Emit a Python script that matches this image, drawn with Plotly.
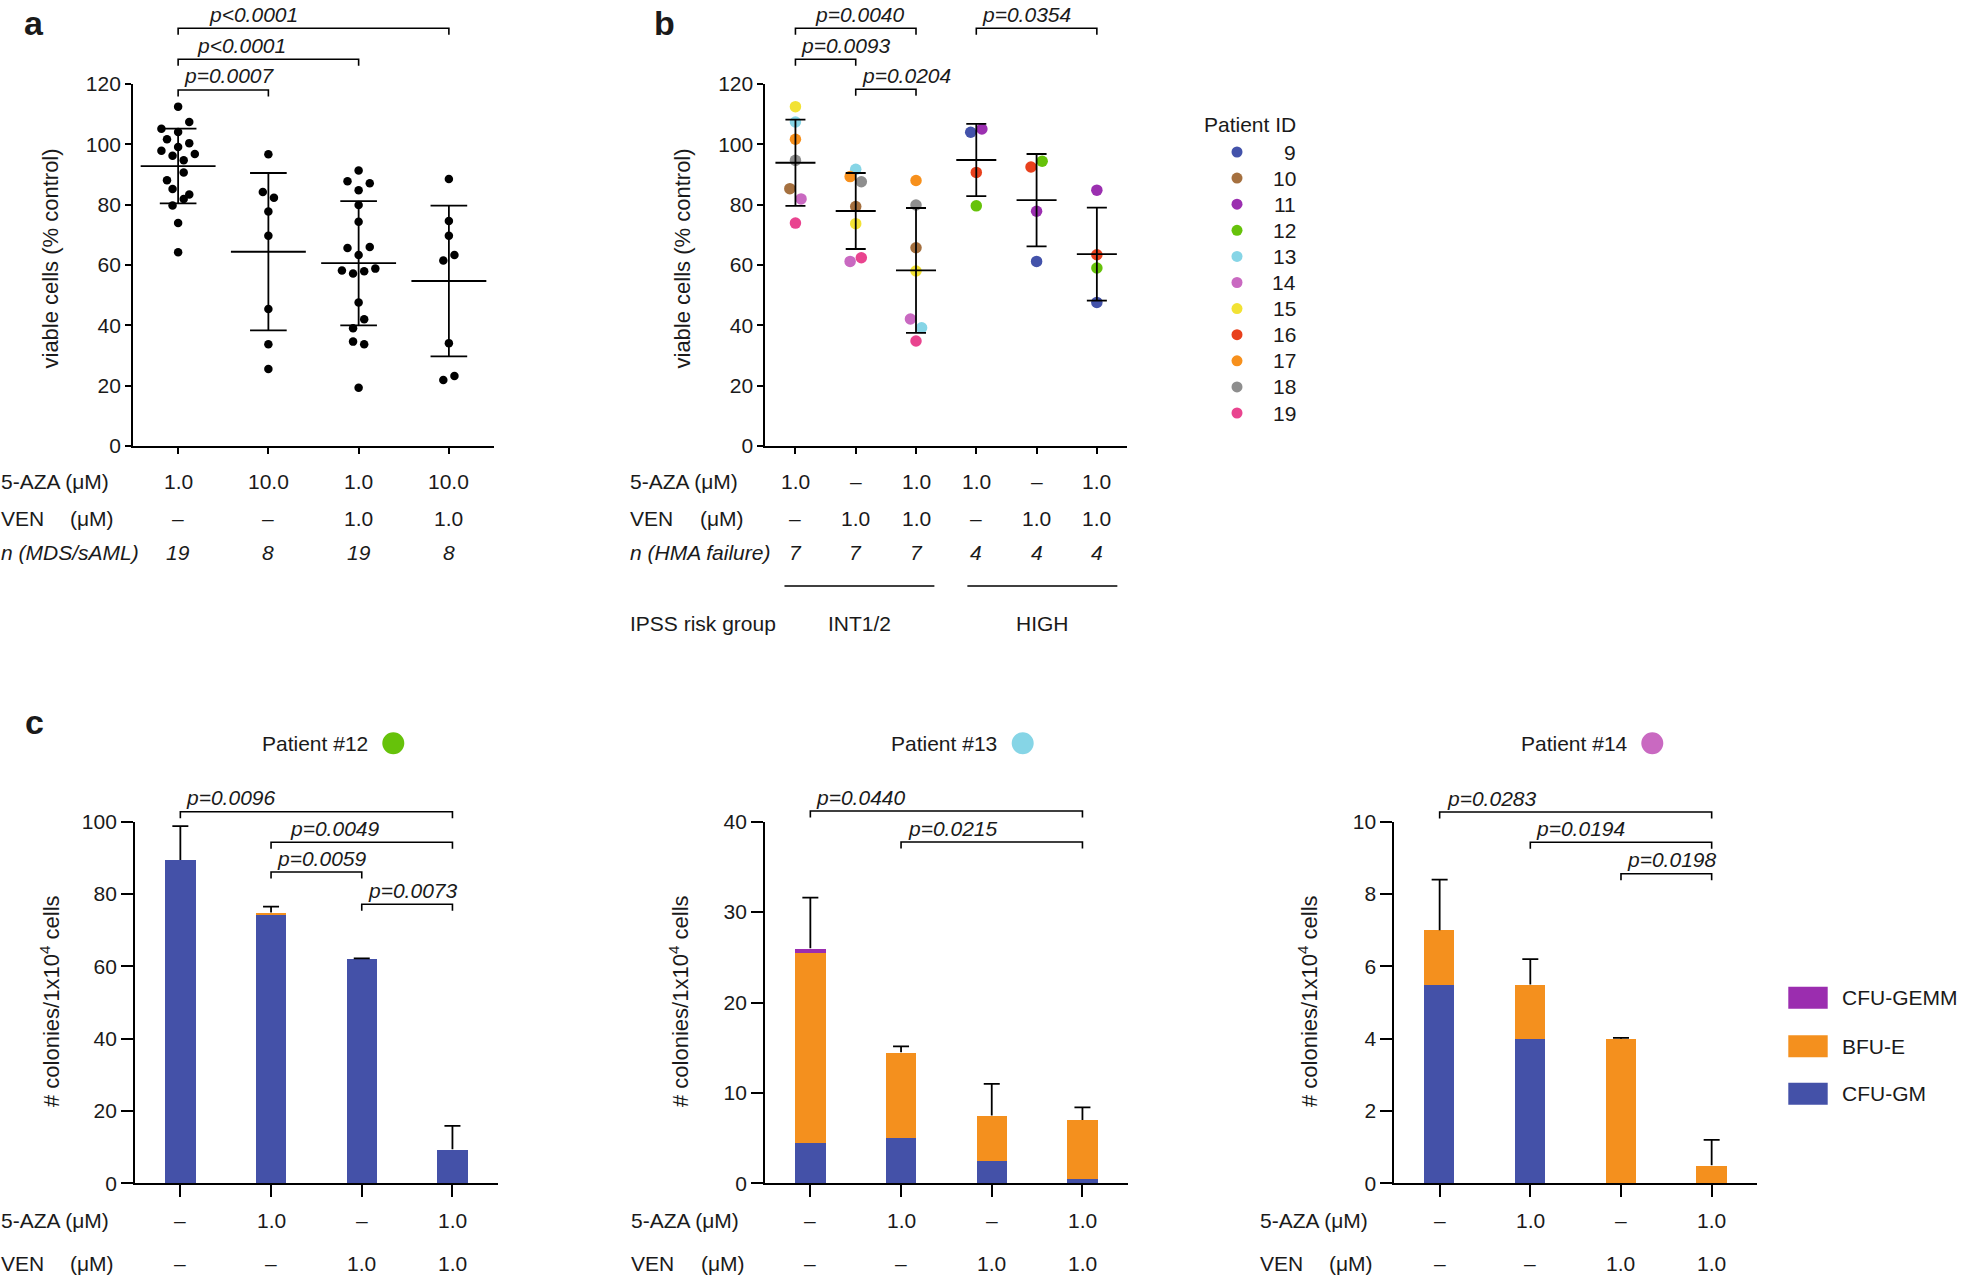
import plotly.graph_objects as go

W, H = 1961, 1278
def fx(px): return px / W
def fy(py): return 1 - py / H

FONT = "Liberation Sans, Arial, Helvetica, sans-serif"
INK = "#1a1a1a"
DASH = "\u2013"

# ---------------- Panel a data ----------------
a_aza = ["1.0", "10.0", "1.0", "10.0"]
a_ven = [DASH, DASH, "1.0", "1.0"]
a_n = ["19", "8", "19", "8"]
a_aza1 = [112.5, 107.4, 105.2, 104.1, 101.7, 100.4, 99.1, 97.9, 96.8, 96.2, 94.7, 90.7, 88.1, 85.2, 83.4, 81.9, 79.7, 73.9, 64.2]
a_aza10 = [96.7, 84.2, 82.3, 77.7, 69.7, 45.4, 33.7, 25.5]
a_aza1_ven1 = [91.3, 87.8, 87.1, 84.8, 79.9, 74.3, 65.6, 66.0, 63.3, 58.8, 58.2, 57.2, 57.9, 47.6, 42.0, 39.0, 34.6, 33.7, 19.3]
a_aza10_ven1 = [88.5, 74.6, 69.7, 61.5, 63.3, 34.1, 21.9, 23.2]
a_mean = [92.8, 64.4, 60.6, 54.7]
a_sd = [12.4, 26.1, 20.6, 25.0]
a_p_labels = ["p&lt;0.0001", "p&lt;0.0001", "p=0.0007"]
a_p_pairs = [(0, 3), (0, 2), (0, 1)]

# ---------------- Panel b data ----------------
b_aza = ["1.0", DASH, "1.0", "1.0", DASH, "1.0"]
b_ven = [DASH, "1.0", "1.0", DASH, "1.0", "1.0"]
b_n = ["7", "7", "7", "4", "4", "4"]
b_patients = ["9", "10", "11", "12", "13", "14", "15", "16", "17", "18", "19"]
b_colors = ["#4352AA", "#A5703F", "#9B2FB0", "#66C20A", "#86D5E6", "#C969C1",
            "#F2E234", "#E8401C", "#F7901C", "#8E8E8E", "#E9448F"]
N = None
b_p9 = [N, N, N, 104.0, 61.2, 47.6]
b_p10 = [85.3, 79.4, 65.7, N, N, N]
b_p11 = [N, N, N, 105.1, 77.8, 84.8]
b_p12 = [N, N, N, 79.6, 94.4, 59.0]
b_p13 = [107.4, 91.7, 39.2, N, N, N]
b_p14 = [81.9, 61.2, 42.1, N, N, N]
b_p15 = [112.5, 73.7, 58.0, N, N, N]
b_p16 = [N, N, N, 90.7, 92.5, 63.4]
b_p17 = [101.7, 89.3, 88.0, N, N, N]
b_p18 = [94.7, 87.6, 79.9, N, N, N]
b_p19 = [73.9, 62.4, 34.8, N, N, N]
b_mean = [93.9, 77.9, 58.2, 94.8, 81.5, 63.6]
b_sd = [14.3, 12.6, 20.7, 12.0, 15.3, 15.4]
b_p_labels = ["p=0.0040", "p=0.0093", "p=0.0204", "p=0.0354"]
b_p_pairs = [(0, 2), (0, 1), (1, 2), (3, 5)]
b_risk = ["INT1/2", "HIGH"]

# ---------------- Panel c data ----------------
c_aza = [DASH, "1.0", DASH, "1.0"]
c_ven = [DASH, DASH, "1.0", "1.0"]
c_components = ["CFU-GEMM", "BFU-E", "CFU-GM"]
c_colors = {"CFU-GM": "#4451A8", "BFU-E": "#F4901E", "CFU-GEMM": "#9B2DAF"}
c12_gm = [89.4, 74.5, 62.0, 9.4]
c12_bfu = [0.0, 0.4, 0.0, 0.0]
c12_gemm = [0.0, 0.0, 0.0, 0.0]
c12_sd = [9.4, 1.6, 0.2, 6.5]
c13_gm = [4.5, 5.0, 2.5, 0.5]
c13_bfu = [21.0, 9.5, 5.0, 6.5]
c13_gemm = [0.5, 0.0, 0.0, 0.0]
c13_sd = [5.6, 0.65, 3.5, 1.4]
c14_gm = [5.5, 4.0, 0.0, 0.0]
c14_bfu = [1.5, 1.5, 4.0, 0.5]
c14_gemm = [0.0, 0.0, 0.0, 0.0]
c14_sd = [1.4, 0.7, 0.02, 0.7]
c12_p = ["p=0.0096", "p=0.0049", "p=0.0059", "p=0.0073"]
c12_pairs = [(0, 3), (1, 3), (1, 2), (2, 3)]
c13_p = ["p=0.0440", "p=0.0215"]
c13_pairs = [(0, 3), (1, 3)]
c14_p = ["p=0.0283", "p=0.0194", "p=0.0198"]
c14_pairs = [(0, 3), (1, 3), (2, 3)]

# =====================================================================
fig = go.Figure()
shapes, ann = [], []

def text(x, y, s, size=21, xanchor="left", yanchor="middle", xref="paper", yref="paper", angle=0, color=INK):
    ann.append(dict(x=x, y=y, xref=xref, yref=yref, text=s, showarrow=False,
                    xanchor=xanchor, yanchor=yanchor, textangle=angle,
                    font=dict(family=FONT, size=size, color=color), borderpad=0))

def bracket(xref, pair, ypx, label, lx, leg=6.5):
    g0, g1 = pair
    shapes.append(dict(type="path", xref=xref, yref="paper",
                       path=f"M {g0},{fy(ypx + leg)} L {g0},{fy(ypx)} L {g1},{fy(ypx)} L {g1},{fy(ypx + leg)}",
                       line=dict(color="black", width=1.6)))
    text(lx, fy(ypx - 14), f"<i>{label}</i>", xanchor="center", xref=xref)

def mean_sd_trace(means, sds, hw_mean, hw_cap, xa, ya):
    xs, ys = [], []
    for i, (m, s) in enumerate(zip(means, sds)):
        xs += [i - hw_mean, i + hw_mean, None, i, i, None,
               i - hw_cap, i + hw_cap, None, i - hw_cap, i + hw_cap, None]
        ys += [m, m, None, m - s, m + s, None, m + s, m + s, None, m - s, m - s, None]
    fig.add_trace(go.Scatter(x=xs, y=ys, mode="lines", line=dict(color="black", width=1.8),
                             xaxis=xa, yaxis=ya, showlegend=False, hoverinfo="skip"))

def xax(d0, d1, n, anchor, ticklen):
    return dict(domain=[fx(d0), fx(d1)], range=[-0.5, n - 0.5], anchor=anchor, automargin=False,
                showline=True, linecolor="black", linewidth=1.8, ticks="outside",
                ticklen=ticklen, tickwidth=1.8, tickcolor="black", tickvals=list(range(n)),
                showticklabels=False, showgrid=False, zeroline=False, fixedrange=True)

def yax(top, bot, rmax, dtick, anchor, ticklen):
    return dict(domain=[fy(bot), fy(top)], range=[0, rmax], anchor=anchor, automargin=False,
                showline=True, linecolor="black", linewidth=1.8, ticks="outside",
                ticklen=ticklen, tickwidth=1.8, tickcolor="black",
                tickvals=[v * dtick for v in range(int(rmax / dtick) + 1)],
                tickfont=dict(family=FONT, size=21, color=INK),
                showgrid=False, zeroline=False, fixedrange=True)

# ---------------- Panel a ----------------
a_groups = [a_aza1, a_aza10, a_aza1_ven1, a_aza10_ven1]
a_swarm = [[0, 2, -3, 0, -2, 2, 0, -3, 3, -1, 1, 1, -2, -1, 2, 1, -1, 0, 0],
           [0, -1, 1, 0, 0, 0, 0, 0],
           [0, -2, 2, 0, 0, 0, -2, 2, 0, 3, -3, -1, 1, 0, 1, -1, -1, 1, 0],
           [0, 0, 0, -1, 1, 0, -1, 1]]
a_step = 5.57 / 90.3
for gi, (vals, offs) in enumerate(zip(a_groups, a_swarm)):
    fig.add_trace(go.Scatter(x=[gi + o * a_step for o in offs], y=vals, mode="markers",
                             marker=dict(color="black", size=8.5), cliponaxis=False,
                             xaxis="x", yaxis="y", showlegend=False))
mean_sd_trace(a_mean, a_sd, 0.415, 0.203, "x", "y")
for pair, lab, ypx, lx in zip(a_p_pairs, a_p_labels, [28.3, 59.3, 90.0], [0.84, 0.70, 0.56]):
    bracket("x", pair, ypx, lab, lx)

# ---------------- Panel b ----------------
b_series = [b_p9, b_p10, b_p11, b_p12, b_p13, b_p14, b_p15, b_p16, b_p17, b_p18, b_p19]
b_swarm = [[0, 0, 0, -1, 0, 0], [-1, 0, 0, 0, 0, 0], [0, 0, 0, 1, 0, 0], [0, 0, 0, 0, 1, 0],
           [0, 0, 1, 0, 0, 0], [1, -1, -1, 0, 0, 0], [0, 0, 0, 0, 0, 0], [0, 0, 0, 0, -1, 0],
           [0, -1, 0, 0, 0, 0], [0, 1, 0, 0, 0, 0], [0, 1, 0, 0, 0, 0]]
b_step = 5.6 / 60.3
for pid, col, vals, offs in zip(b_patients, b_colors, b_series, b_swarm):
    xs = [gi + offs[gi] * b_step for gi, v in enumerate(vals) if v is not None]
    ys = [v for v in vals if v is not None]
    fig.add_trace(go.Scatter(x=xs, y=ys, mode="markers", name=pid,
                             marker=dict(color=col, size=11.5), cliponaxis=False,
                             xaxis="x2", yaxis="y2", showlegend=False))
mean_sd_trace(b_mean, b_sd, 0.332, 0.166, "x2", "y2")
for pair, lab, ypx, lx in zip(b_p_pairs, b_p_labels, [28.3, 59.3, 89.3, 28.3], [1.06, 0.83, 1.84, 3.83]):
    bracket("x2", pair, ypx, lab, lx)

# legend of panel b (hidden axes)
fig.add_trace(go.Scatter(x=[0.475] * len(b_patients), y=list(range(len(b_patients))), mode="markers",
                         marker=dict(color=b_colors, size=11), xaxis="x6", yaxis="y6",
                         showlegend=False, cliponaxis=False))
for i, pid in enumerate(b_patients):
    text(0.975, i, pid, xanchor="right", xref="x6", yref="y6")
text(fx(1297), fy(125), "Patient ID", xanchor="right")

# ---------------- Panel c ----------------
c_sets = [
    ("x3", "y3", [c12_gm, c12_bfu, c12_gemm], c12_sd, c12_p, c12_pairs,
     [811.7, 842.3, 872.0, 904.2], [0.556, 1.70, 1.555, 2.555]),
    ("x4", "y4", [c13_gm, c13_bfu, c13_gemm], c13_sd, c13_p, c13_pairs,
     [811.0, 842.0], [0.556, 1.566]),
    ("x5", "y5", [c14_gm, c14_bfu, c14_gemm], c14_sd, c14_p, c14_pairs,
     [812.0, 842.3, 873.7], [0.568, 1.558, 2.558]),
]
cap = 8.0 / 90.7
for xa, ya, comps, sds, plabs, pairs, ypxs, lxs in c_sets:
    for name, vals in zip(["CFU-GM", "BFU-E", "CFU-GEMM"], comps):
        fig.add_trace(go.Bar(x=list(range(4)), y=vals, name=name, width=0.334,
                             marker=dict(color=c_colors[name], line=dict(width=0)),
                             xaxis=xa, yaxis=ya, showlegend=False))
    totals = [sum(t) for t in zip(*comps)]
    xs, ys = [], []
    for i, (t, s) in enumerate(zip(totals, sds)):
        xs += [i, i, None, i - cap, i + cap, None]
        ys += [t, t + s, None, t + s, t + s, None]
    fig.add_trace(go.Scatter(x=xs, y=ys, mode="lines", line=dict(color="black", width=1.8),
                             xaxis=xa, yaxis=ya, showlegend=False, hoverinfo="skip"))
    for pair, lab, ypx, lx in zip(pairs, plabs, ypxs, lxs):
        bracket(xa, pair, ypx, lab, lx)

# ---------------- text rows ----------------
ROW_A = [481, 518.5, 553]
def rows(xref, lab_px, paren_px, aza, ven, nlab=None, nvals=None, ys=ROW_A):
    text(fx(lab_px), fy(ys[0]), "5-AZA (\u03bcM)")
    text(fx(lab_px), fy(ys[1]), "VEN")
    text(fx(paren_px), fy(ys[1]), "(\u03bcM)")
    for i, v in enumerate(aza):
        text(i, fy(ys[0]), v, xanchor="center", xref=xref)
    for i, v in enumerate(ven):
        text(i, fy(ys[1]), v, xanchor="center", xref=xref)
    if nlab:
        text(fx(lab_px), fy(ys[2]), f"<i>{nlab}</i>")
        for i, v in enumerate(nvals):
            text(i, fy(ys[2]), f"<i>{v}</i>", xanchor="center", xref=xref)

rows("x", 0, 69.3, a_aza, a_ven, "n (MDS/sAML)", a_n)
rows("x2", 629, 699, b_aza, b_ven, "n (HMA failure)", b_n)
ROW_C = [1220, 1263.5]
rows("x3", 0, 69.3, c_aza, c_ven, ys=ROW_C)
rows("x4", 630, 700, c_aza, c_ven, ys=ROW_C)
rows("x5", 1259, 1328, c_aza, c_ven, ys=ROW_C)

# IPSS risk groups
text(fx(629), fy(623.3), "IPSS risk group")
for lab, (x0, x1) in zip(b_risk, [(-0.182, 2.305), (2.852, 5.34)]):
    shapes.append(dict(type="line", xref="x2", yref="paper", x0=x0, x1=x1, y0=fy(586), y1=fy(586),
                       line=dict(color="black", width=1.4)))
    text((x0 + x1) / 2, fy(623.3), lab, xanchor="center", xref="x2")

# axis titles
text(fx(50), fy(258.5), "viable cells (% control)", size=22, xanchor="center", angle=-90)
text(fx(682), fy(258.5), "viable cells (% control)", size=22, xanchor="center", angle=-90)
for xpx in [50, 679, 1308]:
    text(fx(xpx), fy(1001), "# colonies/1x10<sup>4</sup> cells", size=22, xanchor="center", angle=-90)

# panel c titles with colour dots
for lab, cx, dx, col in [("Patient #12", 314.7, 393.3, b_colors[3]),
                         ("Patient #13", 944.3, 1022.7, b_colors[4]),
                         ("Patient #14", 1574.0, 1652.3, b_colors[5])]:
    text(fx(cx), fy(743.3), lab, xanchor="center")
    shapes.append(dict(type="circle", xref="paper", yref="paper", xsizemode="pixel", ysizemode="pixel",
                       xanchor=fx(dx), yanchor=fy(743.3), x0=-11, x1=11, y0=-11, y1=11,
                       fillcolor=col, line=dict(width=0)))

# panel c legend
for name, cy in zip(c_components, [997.8, 1046.2, 1093.8]):
    shapes.append(dict(type="rect", xref="paper", yref="paper", x0=fx(1788.3), x1=fx(1827.7),
                       y0=fy(cy + 11), y1=fy(cy - 11), fillcolor=c_colors[name], line=dict(width=0)))
    text(fx(1840.7), fy(cy), name)

# panel letters
text(fx(23), fy(23), "<b>a</b>", size=34)
text(fx(653), fy(23), "<b>b</b>", size=34)
text(fx(24), fy(722), "<b>c</b>", size=34)

fig.update_layout(
    width=W, height=H, margin=dict(l=0, r=0, t=0, b=0, pad=0, autoexpand=False),
    paper_bgcolor="white", plot_bgcolor="white",
    font=dict(family=FONT, size=21, color=INK),
    barmode="stack", bargap=0,
    showlegend=False,
    xaxis=xax(133, 494, 4, "y", 6), yaxis=yax(84, 446, 120, 20, "x", 6),
    xaxis2=xax(765.3, 1127, 6, "y2", 6), yaxis2=yax(84, 446, 120, 20, "x2", 6),
    xaxis3=xax(135, 497.8, 4, "y3", 12), yaxis3=yax(821.7, 1183.3, 100, 20, "x3", 12),
    xaxis4=xax(765, 1127.8, 4, "y4", 12), yaxis4=yax(821.7, 1183.3, 40, 10, "x4", 12),
    xaxis5=xax(1394.3, 1757, 4, "y5", 12), yaxis5=yax(821.7, 1183.3, 10, 2, "x5", 12),
    xaxis6=dict(domain=[fx(1180), fx(1300)], range=[0, 1], visible=False, anchor="y6",
                fixedrange=True, automargin=False),
    yaxis6=dict(domain=[fy(426.05), fy(138.95)], range=[10.5, -0.5], visible=False, anchor="x6",
                fixedrange=True, automargin=False),
    shapes=shapes, annotations=ann,
)

fig.write_html("out.html", config={"displayModeBar": False},
               post_script="document.body.style.margin='0';document.body.style.overflow='hidden';")
